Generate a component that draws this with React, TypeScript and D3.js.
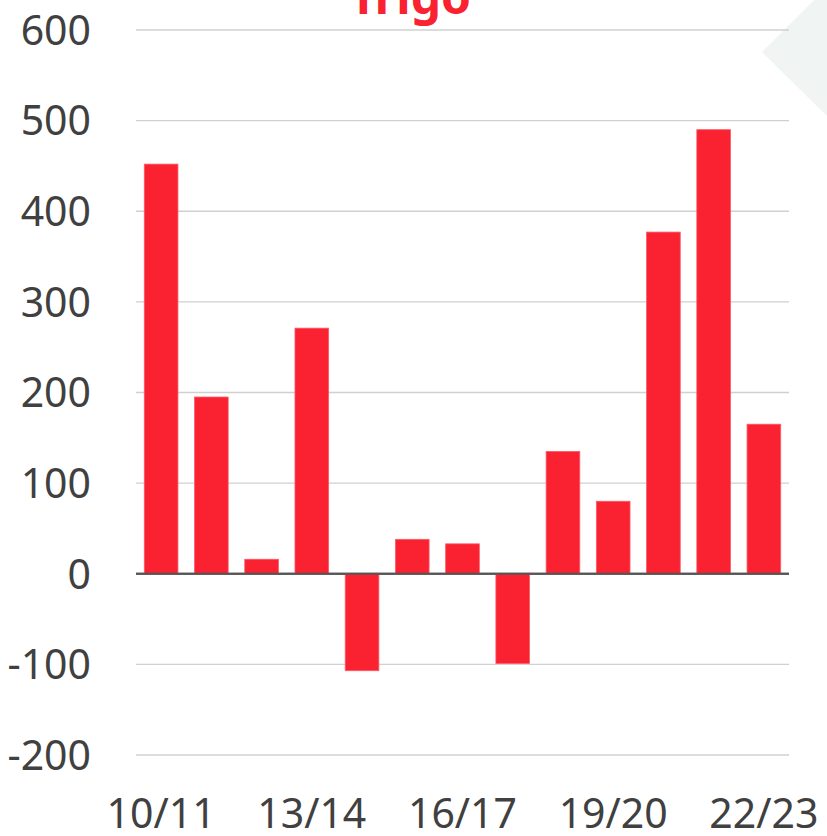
import React from "react";
import * as d3 from "d3";

const categories = ["10/11","11/12","12/13","13/14","14/15","15/16","16/17","17/18","18/19","19/20","20/21","21/22","22/23"];
const values = [452, 195, 16, 271, -107, 38, 33, -99, 135, 80, 377, 490, 165];
const yTicks = [-200, -100, 0, 100, 200, 300, 400, 500, 600];
const xLabelCats = ["10/11", "13/14", "16/17", "19/20", "22/23"];
const title = "Trigo";

const W = 827, H = 836;
const left = 136, right = 789, top = 30, bottom = 755;

export default function App() {
  const x = d3.scaleBand<string>().domain(categories).range([left, right]).paddingInner(0.33).paddingOuter(0.165);
  const y = d3.scaleLinear().domain([-200, 600]).range([bottom, top]);
  const font = "'Noto Sans', 'Open Sans', sans-serif";
  return (
    <svg width={W} height={H} style={{ position: "absolute", left: 0, top: 0, background: "#fff" }}>
      <polygon points="814,0 762,52 827,116 827,0" fill="#f0f4f2" />
      {yTicks.map(t => (
        <g key={t}>
          <line x1={left} x2={right} y1={y(t)} y2={y(t)} stroke={t === 0 ? "#555" : "#d0d0d0"} strokeWidth={t === 0 ? 2 : 1.3} />
          <text x={91} y={y(t)} dy="0.36em" textAnchor="end" fontFamily={font} fontSize={41} fill="#404040">{t}</text>
        </g>
      ))}
      {categories.map((c, i) => {
        const v = values[i];
        return (
          <rect key={c} x={x(c)} width={x.bandwidth()} y={y(Math.max(0, v))} height={Math.abs(y(v) - y(0))} fill="#fa2131" stroke="#fb5a66" strokeWidth={0.8} />
        );
      })}
      <line x1={left} x2={right} y1={y(0)} y2={y(0)} stroke="#555" strokeWidth={2} />
      {xLabelCats.map(c => (
        <text key={c} x={(x(c) as number) + x.bandwidth() / 2} y={828} textAnchor="middle" fontFamily={font} fontSize={41} fill="#404040">{c}</text>
      ))}
      <text x={471} y={14} textAnchor="end" fontFamily={font} fontWeight="bold" fontSize={48} fill="#fa2131">{title}</text>
    </svg>
  );
}
